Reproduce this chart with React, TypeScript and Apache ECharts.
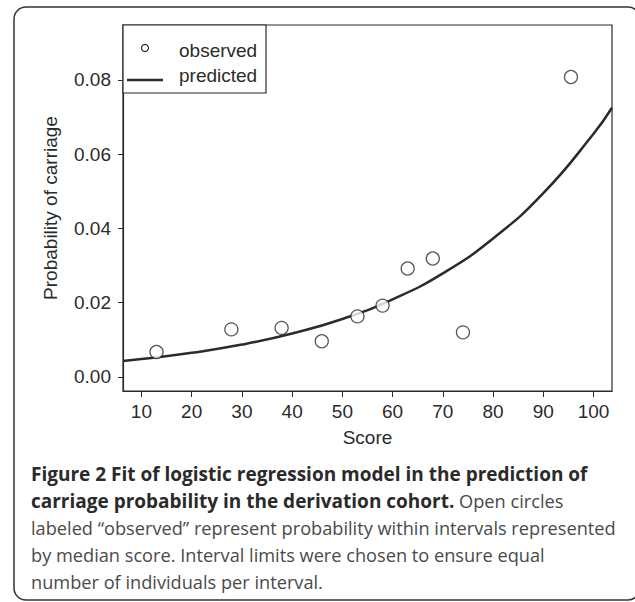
import React, { useEffect, useRef } from "react";
import * as echarts from "echarts";

// Observed probabilities by median interval score
const obsScore = [13.0, 27.9, 37.9, 45.9, 53.0, 58.0, 63.0, 68.0, 74.0, 95.5];
const obsProb = [0.0067, 0.0128, 0.0132, 0.0096, 0.0163, 0.0192, 0.0292, 0.0319, 0.012, 0.0808];

// Predicted curve
const predScore = [6.33, 10, 20, 30, 40, 50, 60, 70, 80, 90, 100, 103.67];
const predProb = [0.0043, 0.0048, 0.0065, 0.0087, 0.0117, 0.0156, 0.0209, 0.0279, 0.0373, 0.0495, 0.0655, 0.0725];

const xTicks = [10, 20, 30, 40, 50, 60, 70, 80, 90, 100];
const yTicks = [0, 0.02, 0.04, 0.06, 0.08];

const captionLines = [
  "{b|Figure 2 Fit of logistic regression model in the prediction of}",
  "{b|carriage probability in the derivation cohort.}{n| Open circles}",
  "{n|labeled \u201cobserved\u201d represent probability within intervals represented}",
  "{n|by median score. Interval limits were chosen to ensure equal}",
  "{n|number of individuals per interval.}",
];

export default function App() {
  const ref = useRef<HTMLDivElement>(null);
  useEffect(() => {
    document.body.style.margin = "0";
    if (!ref.current) return;
    const chart = echarts.init(ref.current, null, { renderer: "svg" });
    const axisFont = "Liberation Sans";
    const ink = "#2b2b2b";
    const fs = 19;
    const captionGraphics = captionLines.map((t, i) => ({
      type: "text",
      x: 31,
      y: 474 + i * 27,
      style: {
        text: t,
        verticalAlign: "middle",
        rich: {
          b: { fontFamily: "Open Sans", fontWeight: "bold", fontSize: 19, fill: "#2a2a2a", color: "#2a2a2a" },
          n: { fontFamily: "Open Sans", fontWeight: "normal", fontSize: 18.2, fill: "#4a4a4a", color: "#4a4a4a" },
        },
      },
    }));
    chart.setOption({
      animation: false,
      backgroundColor: "#ffffff",
      grid: {
        left: 123,
        right: 23,
        top: 25,
        bottom: 211,
        show: true,
        borderColor: ink,
        borderWidth: 1.2,
      },
      xAxis: {
        type: "value",
        min: 6.33,
        max: 103.67,
        name: "Score",
        nameLocation: "middle",
        nameGap: 37,
        nameTextStyle: { fontFamily: axisFont, fontSize: fs, color: ink },
        axisLine: { show: true, onZero: false, lineStyle: { color: ink, width: 1.2 } },
        axisTick: { show: true, length: 6, customValues: xTicks, lineStyle: { color: ink } },
        axisLabel: {
          customValues: xTicks,
          margin: 11,
          fontFamily: axisFont,
          fontSize: fs,
          color: ink,
        },
        splitLine: { show: false },
      },
      yAxis: {
        type: "value",
        min: -0.0038,
        max: 0.0948,
        name: "Probability of carriage",
        nameLocation: "middle",
        nameGap: 63,
        nameTextStyle: { fontFamily: axisFont, fontSize: fs, color: ink },
        axisLine: { show: true, onZero: false, lineStyle: { color: ink, width: 1.2 } },
        axisTick: { show: true, length: 5, customValues: yTicks, lineStyle: { color: ink } },
        axisLabel: {
          customValues: yTicks,
          margin: 12,
          fontFamily: axisFont,
          fontSize: fs,
          color: ink,
          formatter: (v: number) => v.toFixed(2),
        },
        splitLine: { show: false },
      },
      series: [
        {
          name: "predicted",
          type: "line",
          data: predScore.map((x, i) => [x, predProb[i]]),
          smooth: true,
          symbol: "none",
          lineStyle: { color: ink, width: 2.5 },
          z: 2,
        },
        {
          name: "observed",
          type: "scatter",
          data: obsScore.map((x, i) => [x, obsProb[i]]),
          symbol: "circle",
          symbolSize: 13,
          itemStyle: { color: "#ffffff", borderColor: ink, borderWidth: 1.3 },
          z: 3,
        },
      ],
      graphic: [
        {
          type: "rect",
          shape: { x: 14, y: 7, width: 626, height: 593, r: 12 },
          style: { fill: "none", stroke: "#333", lineWidth: 1.5 },
          silent: true,
        },
        {
          type: "rect",
          shape: { x: 123, y: 25, width: 143, height: 68 },
          style: { fill: "#ffffff", stroke: ink, lineWidth: 1.2 },
          z: 10,
        },
        {
          type: "circle",
          shape: { cx: 145, cy: 48, r: 3.5 },
          style: { fill: "#ffffff", stroke: ink, lineWidth: 1.2 },
          z: 11,
        },
        {
          type: "line",
          shape: { x1: 127, y1: 80, x2: 163, y2: 80 },
          style: { stroke: ink, lineWidth: 2.5 },
          z: 11,
        },
        {
          type: "text",
          x: 179,
          y: 50,
          style: { text: "observed", fontFamily: axisFont, fontSize: fs, fill: ink, verticalAlign: "middle" },
          z: 11,
        },
        {
          type: "text",
          x: 179,
          y: 75,
          style: { text: "predicted", fontFamily: axisFont, fontSize: fs, fill: ink, verticalAlign: "middle" },
          z: 11,
        },
        ...captionGraphics,
      ],
    });
    return () => chart.dispose();
  }, []);
  return <div ref={ref} style={{ width: 635, height: 602 }} />;
}
